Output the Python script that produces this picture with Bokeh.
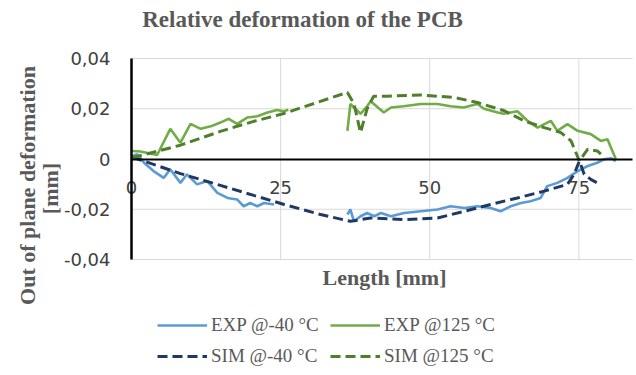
import numpy as np
from bokeh.plotting import figure
from bokeh.models import Legend, LegendItem, FixedTicker, Range1d, Label
from bokeh.embed import file_html
from bokeh.resources import INLINE

nan = np.nan

# ---- data ----
exp40_x = [0.1, 0.96, 2.1, 3.7, 5.4, 6.5, 8.2, 9.3, 11, 12.7, 14.4, 16.1, 17.7, 18.8, 19.9, 21.1, 22.2, 23.9, nan,
           36.2, 36.7, 37.3, 38.4, 39.5, 40.7, 41.8, 43.5, 45.7, 48.5, 51.3, 53.5, 55.8, 58, 60.2, 61.9, 63.6,
           65.3, 66.9, 68.6, 69.7, 71.4, 73.1, 74.8, 76.5, 78.1, 79.2, 80.4, 81.2]
exp40_y = [0.0012, 0.0019, -0.0015, -0.0048, -0.0075, -0.0041, -0.0095, -0.0061, -0.0101, -0.0088, -0.0135, -0.0155,
           -0.0161, -0.0188, -0.0175, -0.0188, -0.0175, -0.0181, nan,
           -0.0221, -0.0201, -0.0248, -0.0228, -0.0215, -0.0228, -0.0215, -0.0228, -0.0215, -0.0208, -0.0201, -0.0188,
           -0.0195, -0.0188, -0.0195, -0.0208, -0.0188, -0.0175, -0.0168, -0.0155, -0.0108, -0.0095, -0.0075, -0.0048,
           -0.0028, -0.0015, -0.0001, 0.0003, -0.0008]

exp125_x = [0.1, 1.5, 4.3, 6.5, 8.2, 9.9, 11.6, 13.3, 14.9, 16.3, 17.7, 19.4, 21.1, 22.8, 24.4, 25.5, 26.3, nan,
            36.2, 36.7, 37.3, 38.4, 39.5, 40.1, 42.3, 43.5, 45.6, 48.5, 51.3, 53.5, 55.7, 58, 59.1, 61.4, 62.4,
            64.7, 66.4, 68.1, 70.3, 71.4, 73.1, 74.8, 77, 78.7, 79.8, 80.4, 81.2]
exp125_y = [0.0032, 0.003, 0.0016, 0.012, 0.0065, 0.014, 0.012, 0.013, 0.0145, 0.016, 0.014, 0.0165, 0.017, 0.0185,
            0.0195, 0.019, 0.0196, nan,
            0.0112, 0.0219, 0.0205, 0.018, 0.021, 0.023, 0.0185, 0.0205, 0.021, 0.0219, 0.0219, 0.021, 0.0205,
            0.0219, 0.02, 0.0185, 0.018, 0.019, 0.0152, 0.0125, 0.0152, 0.0112, 0.0139, 0.0112, 0.0099, 0.0072,
            0.0079, 0.0045, 0.0]

sim40_x = [0.1, 8.2, 14.9, 20.5, 25.6, 31.7, 36.7, 40.1, 45.7, 51.3, 55.8, 60.2, 64.7, 69.2, 73.1, 74.2, 75.1,
           75.9, 77, 78.1]
sim40_y = [0.0008, -0.0058, -0.0105, -0.0145, -0.0181, -0.0221, -0.0248, -0.0235, -0.0241, -0.0235, -0.0208,
           -0.0181, -0.0155, -0.0128, -0.0101, -0.0061, -0.0008, -0.0061, -0.0081, -0.0095]

sim125_x = [0.1, 8.2, 14.9, 20.5, 25.4, 36.2, 37.3, 38.4, 39.5, 40.6, 42.9, 48.5, 54.1, 58, 62.5, 65.8, 69.2, 72,
            73.7, 75.1, 76.5, 78.1, 78.7]
sim125_y = [0.0005, 0.0055, 0.0110, 0.0150, 0.018, 0.0265, 0.022, 0.0105, 0.02, 0.025, 0.025, 0.0255, 0.0245,
            0.0225, 0.0192, 0.0152, 0.0125, 0.0105, 0.0072, -0.0008, 0.0039, 0.0032, 0.0019]

series_names = ["EXP @-40 °C", "EXP @125 °C", "SIM @-40 °C", "SIM @125 °C"]
x_ticks = [0, 25, 50, 75]
y_ticks = [-0.04, -0.02, 0, 0.02, 0.04]
y_tick_labels = ["-0,04", "-0,02", "0", "0,02", "0,04"]
x_lim = (0, 84)
y_lim = (-0.04, 0.04)

title_text = "Relative deformation of the PCB"
x_label = "Length [mm]"
y_label_1 = "Out of plane deformation"
y_label_2 = "[mm]"

serif = "Liberation Serif"
label_col = "#595959"
tick_font = "DejaVu Sans"
tick_col = "#404040"

# ---- layout: the frame fills the canvas; plot area is 131..632 px wide, 58..259 px tall ----
W, H = 636, 375
pa_left, pa_right, pa_top, pa_bottom = 131, 632, 58, 259
sx = (pa_right - pa_left) / (x_lim[1] - x_lim[0])
sy = (pa_bottom - pa_top) / (y_lim[1] - y_lim[0])
x_range = Range1d(x_lim[0] - pa_left / sx, x_lim[1] + (W - pa_right) / sx)
y_range = Range1d(y_lim[0] - (H - pa_bottom) / sy, y_lim[1] + pa_top / sy)

p = figure(width=W, height=H, output_backend="svg", toolbar_location=None,
           x_range=x_range, y_range=y_range,
           min_border_left=0, min_border_right=0, min_border_top=0, min_border_bottom=0)
p.outline_line_color = None
p.background_fill_color = "white"
p.border_fill_color = "white"
p.xgrid.visible = False
p.ygrid.visible = False

# gridlines inside the plot area only
grid_col = "#d9d9d9"
gx = [t for t in x_ticks if t != 0]
p.segment(x0=gx, y0=[y_lim[0]] * len(gx), x1=gx, y1=[y_lim[1]] * len(gx), line_color=grid_col, line_width=1)
gy = [t for t in y_ticks if t != 0]
p.segment(x0=[x_lim[0]] * len(gy), y0=gy, x1=[x_lim[1]] * len(gy), y1=gy, line_color=grid_col, line_width=1)

xa = p.xaxis[0]
xa.ticker = FixedTicker(ticks=x_ticks)
xa.fixed_location = 0
xa.bounds = x_lim
xa.axis_line_color = "black"
xa.axis_line_width = 2
xa.major_tick_line_color = None
xa.minor_tick_line_color = None
xa.major_label_standoff = 16
xa.major_label_text_font = tick_font
xa.major_label_text_font_size = "18px"
xa.major_label_text_color = tick_col

ya = p.yaxis[0]
ya.ticker = FixedTicker(ticks=y_ticks)
ya.fixed_location = 0
ya.bounds = y_lim
ya.major_label_overrides = {t: l for t, l in zip(y_ticks, y_tick_labels)}
ya.axis_line_color = "black"
ya.axis_line_width = 2.5
ya.major_tick_line_color = None
ya.minor_tick_line_color = None
ya.major_label_standoff = 15
ya.major_label_text_font = tick_font
ya.major_label_text_font_size = "18px"
ya.major_label_text_color = tick_col

col_exp40 = "#5b9bd5"
col_exp125 = "#70ad47"
col_sim40 = "#203864"
col_sim125 = "#4f7f2a"

r1 = p.line(exp40_x, exp40_y, line_color=col_exp40, line_width=2.6)
r2 = p.line(exp125_x, exp125_y, line_color=col_exp125, line_width=2.6)
r3 = p.line(sim40_x, sim40_y, line_color=col_sim40, line_width=3, line_dash="10 5")
r4 = p.line(sim125_x, sim125_y, line_color=col_sim125, line_width=3, line_dash="10 5")

# legend is filled column by column: column 1 = -40 °C, column 2 = 125 °C
legend = Legend(items=[LegendItem(label=series_names[0], renderers=[r1]),
                       LegendItem(label=series_names[2], renderers=[r3]),
                       LegendItem(label=series_names[1], renderers=[r2]),
                       LegendItem(label=series_names[3], renderers=[r4])],
                location=(157, 8), ncols=2, padding=0, margin=0, spacing=9,
                glyph_width=50, glyph_height=20, label_height=20, label_width=110, label_standoff=4,
                label_text_font=serif, label_text_font_size="19px",
                label_text_color=label_col, background_fill_alpha=0, border_line_color=None)
p.add_layout(legend, "center")

def add_text(x, y, text, size, angle=0.0):
    p.add_layout(Label(x=x, y=y, x_units="screen", y_units="screen", text=text, angle=angle,
                       text_font=serif, text_font_style="bold", text_font_size=size,
                       text_color=label_col, text_align="center", text_baseline="middle"))

add_text(302, H - 19, title_text, "23px")
add_text(384, H - 277, x_label, "22px")
add_text(27, H - 185, y_label_1, "22px", np.pi / 2)
add_text(50, H - 188, y_label_2, "22px", np.pi / 2)

open("out.html", "w").write(file_html(p, INLINE))
